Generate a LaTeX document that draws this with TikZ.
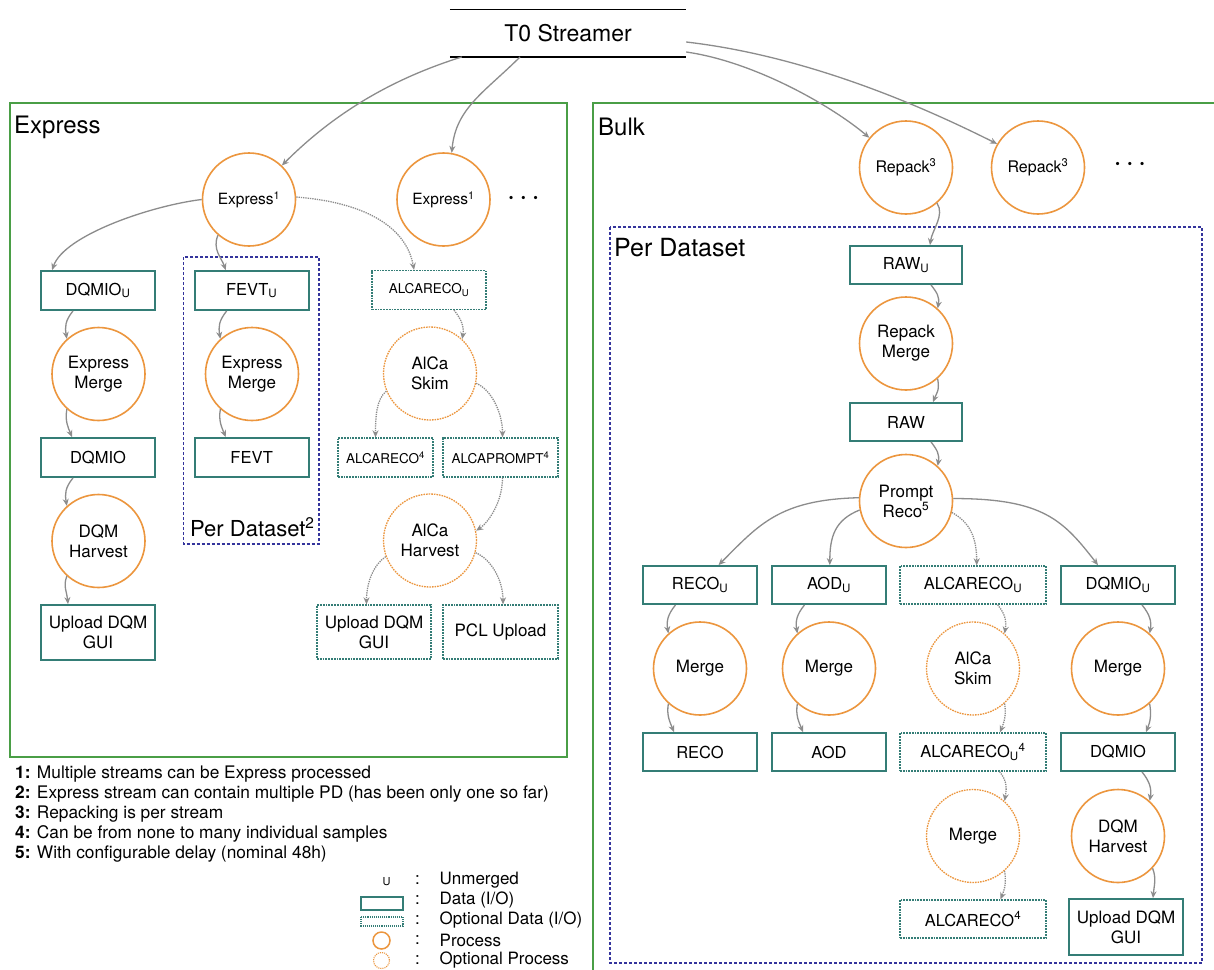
\documentclass[tikz,border=0pt]{standalone}
\usepackage{fontspec}
\setmainfont{TeX Gyre Heros}
\usetikzlibrary{arrows.meta}
\definecolor{grn}{RGB}{74,158,70}
\definecolor{tealc}{RGB}{52,125,118}
\definecolor{orng}{RGB}{236,150,62}
\definecolor{navy}{RGB}{52,52,156}
\definecolor{arrg}{RGB}{140,140,140}
\newcommand\fs[2]{\fontsize{#1}{#2}\selectfont}
\newcommand\sbU{\textsubscript{U}}
\tikzset{
  databox/.style={draw=tealc, line width=1.8pt, minimum width=114pt, minimum height=39pt, inner sep=0pt, align=center, font=\fs{16.5}{20}},
  optdata/.style={databox, densely dotted, line width=1.3pt},
  proc/.style={circle, draw=orng, line width=1.6pt, minimum size=93pt, inner sep=0pt, align=center, font=\fs{17}{20}},
  optproc/.style={proc, densely dotted, line width=1.3pt},
  arr/.style={draw=arrg, line width=1.3pt, -{Stealth[length=7pt,width=6pt]}},
  optarr/.style={arr, densely dotted},
  group/.style={draw=grn, line width=1.5pt},
  pds/.style={draw=navy, line width=1.4pt, dash pattern=on 3pt off 2pt},
  lbl/.style={anchor=west, inner sep=0pt},
}
\begin{document}
\begin{tikzpicture}[x=1pt,y=-1pt]
\clip (0,0) rectangle (1214,969);
\fill[white] (0,0) rectangle (1214,969);

% group frames
\draw[group] (10,103) rectangle (567,757);
\draw[group] (593,103) rectangle (1240,990);
\draw[pds] (183.6,257) rectangle (319,544);
\draw[pds] (610,227) rectangle (1202,963);

\node[lbl, font=\fs{24}{26}] (lexp) at (14,127) {Express};
\node[lbl, font=\fs{24}{26}] (lbulk) at (598,127) {Bulk};
\node[lbl, font=\fs{25}{28}] (lpd) at (614,248) {Per Dataset};
\node[lbl, font=\fs{22}{24}] (lpd2) at (190,527) {Per Dataset\textsuperscript{2}};

% T0
\node[font=\fs{23}{26}, minimum width=236pt, minimum height=46.7pt, inner sep=0pt] (t0) at (568,33.4) {T0 Streamer};
\draw[line width=1.2pt] (t0.north west) -- (t0.north east) (t0.south west) -- (t0.south east);

% Express side
\node[proc, font=\fs{15.5}{18}] (e1) at (249,199.5) {Express\textsuperscript{1}};
\node[proc, font=\fs{15.5}{18}] (e2) at (443.5,199.5) {Express\textsuperscript{1}};
\node[font=\bfseries\fs{22}{24}] (dots1) at (523.5,200) {· · ·};

\node[databox] (dqmiou) at (98,290.5) {DQMIO\sbU};
\node[proc] (em1) at (98.5,374) {Express\\Merge};
\node[databox] (dqmio) at (98,457.5) {DQMIO};
\node[proc] (dqmh) at (98.5,541) {DQM\\Harvest};
\node[databox, minimum height=55pt, font=\fs{17}{20}] (upl1) at (98,632.5) {Upload DQM\\GUI};

\node[databox] (fevtu) at (251.7,290.5) {FEVT\sbU};
\node[proc] (em2) at (252,374) {Express\\Merge};
\node[databox] (fevt) at (251.7,457.5) {FEVT};

\node[optdata, font=\fs{13.5}{16}] (alcu) at (429,290) {ALCARECO\sbU};
\node[optproc] (askim) at (430,373.5) {AlCa\\Skim};
\node[optdata, minimum width=95pt, font=\fs{13.5}{16}] (alc4) at (385.5,457.5) {ALCARECO\textsuperscript{4}};
\node[optdata, minimum width=115pt, font=\fs{13.5}{16}] (alcp4) at (500.5,457.5) {ALCAPROMPT\textsuperscript{4}};
\node[optproc] (ahar) at (430,540.5) {AlCa\\Harvest};
\node[optdata, minimum height=54pt, font=\fs{17}{20}] (upl2) at (374,632) {Upload DQM\\GUI};
\node[optdata, minimum width=115pt, minimum height=54pt, font=\fs{17}{20}] (pcl) at (500.5,632) {PCL Upload};

% Bulk side
\node[proc, font=\fs{16}{18}] (rp1) at (906,167.5) {Repack\textsuperscript{3}};
\node[proc, font=\fs{16}{18}] (rp2) at (1038,167.5) {Repack\textsuperscript{3}};
\node[font=\bfseries\fs{22}{24}] (dots2) at (1130,166) {· · ·};

\node[databox, minimum width=112pt, minimum height=38pt] (rawu) at (906,265) {RAW\sbU};
\node[proc] (rpm) at (906,343.5) {Repack\\Merge};
\node[databox, minimum width=112pt, minimum height=38pt] (raw) at (906,422) {RAW};
\node[proc] (prr) at (906,501) {Prompt\\Reco\textsuperscript{5}};

\node[databox, minimum height=38pt] (recou) at (700,585) {RECO\sbU};
\node[databox, minimum height=38pt] (aodu) at (829,585) {AOD\sbU};
\node[optdata, minimum width=146pt, minimum height=38pt] (alcub) at (973,585) {ALCARECO\sbU};
\node[databox, minimum height=38pt] (dqmiou2) at (1118,585) {DQMIO\sbU};

\node[proc] (m1) at (700,668.5) {Merge};
\node[proc] (m2) at (829,668.5) {Merge};
\node[optproc] (askim2) at (973,668.5) {AlCa\\Skim};
\node[proc] (m4) at (1118,668.5) {Merge};

\node[databox, minimum height=38pt] (reco) at (700,752) {RECO};
\node[databox, minimum height=38pt] (aod) at (829,752) {AOD};
\node[optdata, minimum width=146pt, minimum height=38pt] (alcu4) at (973,752) {ALCARECO\sbU\textsuperscript{4}};
\node[databox, minimum height=38pt] (dqmio2) at (1118,752) {DQMIO};

\node[optproc] (m3) at (973,836) {Merge};
\node[proc] (dqmh2) at (1118,836) {DQM\\Harvest};

\node[optdata, minimum width=146pt, minimum height=38pt] (alc4b) at (973,919) {ALCARECO\textsuperscript{4}};
\node[databox, minimum height=56pt, font=\fs{17}{20}] (upl3) at (1126,927) {Upload DQM\\GUI};

% connectors from T0
\draw[arr] ([xshift=12pt]t0.south west) .. controls +(-80,25) and +(45,-45) .. (e1.46);
\draw[arr] ([xshift=-48pt]t0.south) .. controls +(-35,35) and +(4,-45) .. (e2.80);
\draw[arr] ([yshift=-18.6pt]t0.east) .. controls +(70,10) and +(-35,-30) .. (rp1.141);
\draw[arr] ([yshift=-8.6pt]t0.east) .. controls +(130,15) and +(-60,-30) .. (rp2.150);

% Express connectors
\draw[arr] (e1.180) .. controls +(-50,6) and +(12,-35) .. ([xshift=12pt]dqmiou.north west);
\draw[arr] (e1.229) .. controls +(-6,14) and +(-4,-12) .. ([xshift=-26pt]fevtu.north);
\draw[optarr] (e1.3) .. controls +(65,5) and +(-8,-45) .. ([xshift=-15pt]alcu.north);

\draw[arr] ([xshift=-25pt]dqmiou.south) .. controls +(-8,10) and +(-2,-12) .. (em1.132);
\draw[arr] (em1.228) .. controls +(-2,12) and +(-4,-10) .. ([xshift=-26pt]dqmio.north);
\draw[arr] ([xshift=-25pt]dqmio.south) .. controls +(-8,10) and +(-2,-12) .. (dqmh.132);
\draw[arr] (dqmh.228) .. controls +(-4,10) and +(-1,-12) .. ([xshift=-30pt]upl1.north);

\draw[arr] ([xshift=-25pt]fevtu.south) .. controls +(-8,10) and +(-2,-12) .. (em2.132);
\draw[arr] (em2.228) .. controls +(-2,12) and +(-4,-10) .. ([xshift=-26pt]fevt.north);

\draw[optarr] ([xshift=25pt]alcu.south) .. controls +(8,10) and +(2,-12) .. (askim.47);
\draw[optarr] (askim.202) .. controls +(-10,8) and +(0,-20) .. ([xshift=-10pt]alc4.north);
\draw[optarr] (askim.348) .. controls +(15,6) and +(0,-25) .. ([xshift=2pt]alcp4.north);
\draw[optarr] ([xshift=2pt]alcp4.south) .. controls +(0,25) and +(12,-8) .. (ahar.12);
\draw[optarr] (ahar.200) .. controls +(-12,8) and +(0,-22) .. ([xshift=-7.5pt]upl2.north);
\draw[optarr] (ahar.345) .. controls +(15,6) and +(0,-25) .. ([xshift=2.5pt]pcl.north);

% Bulk connectors
\draw[arr] (rp1.311) .. controls +(8,12) and +(2,-15) .. ([xshift=24pt]rawu.north);
\draw[arr] ([xshift=25pt]rawu.south) .. controls +(6,8) and +(2,-12) .. (rpm.48);
\draw[arr] (rpm.312) .. controls +(2,12) and +(4,-10) .. ([xshift=27pt]raw.north);
\draw[arr] ([xshift=25pt]raw.south) .. controls +(6,8) and +(2,-12) .. (prr.48);

\draw[arr] (prr.176) .. controls +(-80,2) and +(40,-40) .. ([xshift=18.5pt]recou.north);
\draw[arr] (prr.191) .. controls +(-25,10) and +(0,-28) .. ([xshift=0.8pt]aodu.north);
\draw[optarr] (prr.346) .. controls +(18,10) and +(0,-28) .. ([xshift=3.7pt]alcub.north);
\draw[arr] (prr.3) .. controls +(90,0) and +(-35,-45) .. ([xshift=-20pt]dqmiou2.north);

\draw[arr] ([xshift=-24.5pt]recou.south) .. controls +(-8,10) and +(-2,-12) .. (m1.132);
\draw[arr] (m1.228) .. controls +(-2,12) and +(-4,-10) .. ([xshift=-26pt]reco.north);
\draw[arr] ([xshift=-24.5pt]aodu.south) .. controls +(-8,10) and +(-2,-12) .. (m2.132);
\draw[arr] (m2.228) .. controls +(-2,12) and +(-4,-10) .. ([xshift=-26pt]aod.north);

\draw[optarr] ([xshift=24.6pt]alcub.south) .. controls +(8,10) and +(2,-12) .. (askim2.48);
\draw[optarr] (askim2.312) .. controls +(2,12) and +(4,-10) .. ([xshift=27pt]alcu4.north);
\draw[optarr] ([xshift=26.6pt]alcu4.south) .. controls +(8,10) and +(2,-12) .. (m3.48);
\draw[optarr] (m3.312) .. controls +(2,12) and +(4,-10) .. ([xshift=27.5pt]alc4b.north);

\draw[arr] ([xshift=24pt]dqmiou2.south) .. controls +(8,10) and +(2,-12) .. (m4.48);
\draw[arr] (m4.312) .. controls +(2,12) and +(4,-10) .. ([xshift=28pt]dqmio2.north);
\draw[arr] ([xshift=24pt]dqmio2.south) .. controls +(8,10) and +(2,-12) .. (dqmh2.48);
\draw[arr] (dqmh2.317) .. controls +(4,10) and +(1,-12) .. ([xshift=27pt]upl3.north);

% footnotes
\begin{scope}[every node/.style={lbl, font=\fs{17.3}{19}}]
\node (f1) at (15,774) {\textbf{1:} Multiple streams can be Express processed};
\node (f2) at (15,794) {\textbf{2:} Express stream can contain multiple PD (has been only one so far)};
\node (f3) at (15,814) {\textbf{3:} Repacking is per stream};
\node (f4) at (15,834) {\textbf{4:} Can be from none to many individual samples};
\node (f5) at (15,854) {\textbf{5:} With configurable delay (nominal 48h)};
\end{scope}

% legend
\node[font=\fs{11}{12}] (lgU) at (386.5,882) {U};
\draw[draw=tealc, line width=1.6pt] (361,897) rectangle (403,910);
\draw[draw=tealc, line width=1.1pt, densely dotted] (361,917) rectangle (403,926);
\draw[draw=orng, line width=1.5pt] (381.5,940.5) circle [radius=8.5];
\draw[draw=orng, line width=1.1pt, densely dotted] (381.5,960.5) circle [radius=8];
\begin{scope}[every node/.style={font=\fs{17}{19}}]
\foreach \yy/\nm in {880/c1,900/c2,920/c3,940/c4,960/c5}{\node (\nm) at (417.5,\yy) {:};}
\end{scope}
\begin{scope}[every node/.style={lbl, font=\fs{17}{19}}]
\node (lg1) at (439.5,880) {Unmerged};
\node (lg2) at (439.5,900) {Data (I/O)};
\node (lg3) at (439.5,920) {Optional Data (I/O)};
\node (lg4) at (439.5,940) {Process};
\node (lg5) at (439.5,960) {Optional Process};
\end{scope}
\end{tikzpicture}
\end{document}
